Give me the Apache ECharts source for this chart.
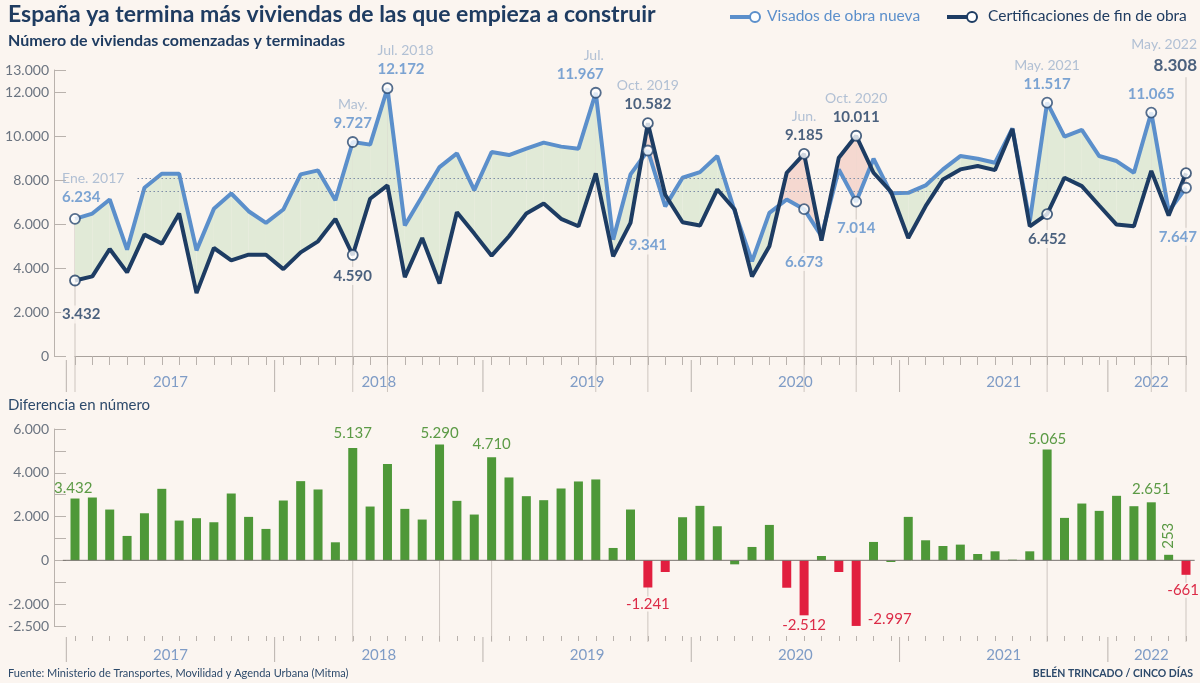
<!DOCTYPE html>
<html><head><meta charset="utf-8">
<script src="https://cdn.jsdelivr.net/npm/echarts@6/dist/echarts.min.js"></script>
<style>html,body{margin:0;padding:0;background:#fbf5f0;}#c{width:1200px;height:683px;}</style>
</head><body><div id="c"></div>
<script>
// ---------------- DATA ----------------
const monthNames = ['Ene','Feb','Mar','Abr','May','Jun','Jul','Ago','Sep','Oct','Nov','Dic'];
const years = [2017, 2018, 2019, 2020, 2021, 2022];
const lastMonthCount = 65; // Ene. 2017 .. May. 2022
const months = [];
years.forEach(y => monthNames.forEach(m => { if (months.length < lastMonthCount) months.push(m + '. ' + y); }));

// Visados de obra nueva (viviendas comenzadas)
const visados = [6234, 6475, 7114, 4834, 7647, 8285, 8285, 4802, 6688, 7387, 6581, 6050, 6658, 8254, 8436, 7083,
  9727, 9608, 12172, 5928, 7266, 8588, 9211, 7539, 9272, 9135, 9424, 9700, 9517, 9424, 11967, 5290,
  8254, 9341, 6800, 8103, 8359, 9089, 6581, 4302, 6505, 7114, 6673, 5450, 8482, 7014, 8968, 7400,
  7418, 7752, 8482, 9089, 8968, 8786, 10350, 6125, 11517, 9971, 10276, 9089, 8862, 8330, 11065, 6581, 7647];
// Certificaciones de fin de obra (viviendas terminadas)
const certificaciones = [3432, 3617, 4864, 3800, 5518, 5107, 6475, 2858, 4909, 4347, 4606, 4606, 3950, 4711, 5212, 6234,
  4590, 7146, 7752, 3587, 5366, 3298, 6536, 5563, 4560, 5442, 6475, 6931, 6234, 5897, 8299, 4529,
  6050, 10582, 7330, 6080, 5928, 7570, 6658, 3617, 4986, 8330, 9185, 5250, 9015, 10011, 8330, 7476,
  5366, 6810, 8026, 8482, 8634, 8451, 10320, 5897, 6452, 8103, 7722, 6840, 5974, 5897, 8414, 6384, 8308];
// Diferencia en número (barras)
const diferencia = [2824, 2870, 2320, 1115, 2150, 3267, 1817, 1924, 1740, 3053, 1985, 1435, 2733, 3618, 3237, 824,
  5137, 2458, 4397, 2351, 1863, 5290, 2718, 2092, 4710, 3786, 2931, 2748, 3282, 3603, 3695, 565,
  2321, -1241, -534, 1969, 2489, 1557, -183, 611, 1618, -1252, -2512, 198, -534, -2997, 840, -76,
  1985, 916, 656, 718, 290, 412, 30, 412, 5065, 1939, 2595, 2260, 2947, 2473, 2651, 253, -661];
// Reference (dotted) lines
const refLines = [8100, 7470];
// Tick labels
const topTickStep = 2000, topMax = 13000;
const bottomTickLabels = {'6000': '6.000', '4000': '4.000', '2000': '2.000', '0': '0', '-2000': '-2.000', '-3000': '-2.500'};
// Annotations
const annDates = {0: 'Ene. 2017', 16: 'May.', 18: 'Jul. 2018', 30: 'Jul.', 33: 'Oct. 2019', 42: 'Jun.', 45: 'Oct. 2020', 56: 'May. 2021', 64: 'May. 2022'};
const dateOn = {0: 'vis', 16: 'vis', 18: 'vis', 30: 'vis', 33: 'cert', 42: 'cert', 45: 'cert', 56: 'vis', 64: 'cert'};
const annVisados = [0, 16, 18, 30, 33, 42, 45, 56, 62, 64];
const annCert = [0, 16, 33, 42, 45, 56, 64];
const barLabels = {0: '3.432', 16: '5.137', 21: '5.290', 24: '4.710', 33: '-1.241', 42: '-2.512', 45: '-2.997', 56: '5.065', 62: '2.651', 63: '253', 64: '-661'};
const leaderTop = [0, 16, 18, 30, 33, 42, 45, 56, 62, 64];
const leaderBottom = [16, 21, 24, 33, 56, 64];

// ---------------- LAYOUT / STYLE ----------------
const BG = '#fbf5f0';
const FONT = 'Lato, "Noto Sans", sans-serif';
const C_VIS = '#5b8fcb', C_CERT = '#1d3c63', C_NAVY = '#1f3c61';
const C_DATE = '#9fb3cd', C_AXIS = '#b9b2ad', C_AXLAB = '#6b7480', C_YEAR = '#7f9cc6';
const C_GREEN = '#4e9838', C_RED = '#e11f3f', C_GLAB = '#5b9a45', C_RLAB = '#dc2b47';
const FILL_G = '#e1ead7', FILL_P = '#f5d8d0';

const labelLayout = {
  vis: {0: {pos: 'top', align: 'left', dx: -14, dist: 7}, 16: {pos: 'top', dist: 4}, 18: {pos: 'top', align: 'left', dx: -11, dist: 4},
        30: {pos: 'top', align: 'right', dx: 9, dist: 4}, 33: {pos: 'bottom', dist: 80, bg: true}, 42: {pos: 'bottom', dist: 38, bg: true},
        45: {pos: 'bottom', dist: 12, bg: true}, 56: {pos: 'top', dist: 4}, 62: {pos: 'top', dist: 4}, 64: {pos: 'bottom', dist: 34, align: 'right', dx: 12, bg: true}},
  cert: {0: {pos: 'bottom', align: 'left', dx: -14, dist: 19, bg: true}, 16: {pos: 'bottom', dist: 6, bg: true}, 33: {pos: 'top', dist: 4},
         42: {pos: 'top', dist: 4}, 45: {pos: 'top', dist: 4}, 56: {pos: 'bottom', dist: 10, bg: true}, 64: {pos: 'top', align: 'right', dx: 12, dist: 91}}
};
const leaderExtra = {64: 96};
const barLabelLayout = {
  0: {position: 'top', align: 'left', offset: [-21, 0], distance: 3},
  16: {position: 'top', distance: 7}, 21: {position: 'top', distance: 4}, 24: {position: 'top', distance: 6},
  33: {position: 'bottom', distance: 9}, 42: {position: 'bottom', distance: 2},
  45: {position: 'right', distance: 7, offset: [0, 26]}, 56: {position: 'top', distance: 3},
  62: {position: 'top', distance: 6}, 63: {position: 'top', rotate: 90, align: 'left', verticalAlign: 'middle', distance: 6},
  64: {position: 'bottom', distance: 8, align: 'right', offset: [13, 0]}
};

const fmt = n => (n < 0 ? '-' : '') + String(Math.abs(Math.round(n))).replace(/\B(?=(\d{3})+(?!\d))/g, '.');

const rich = {
  d: {fontSize: 14, color: C_DATE, lineHeight: 19, fontFamily: FONT},
  vis: {fontSize: 15, fontWeight: 'bold', color: C_VIS, lineHeight: 18, fontFamily: FONT},
  cert: {fontSize: 15, fontWeight: 'bold', color: C_NAVY, lineHeight: 18, fontFamily: FONT},
  big: {fontSize: 17, fontWeight: 'bold', color: C_NAVY, lineHeight: 22, fontFamily: FONT}
};

function markerItem(m, key) {
  const vals = key === 'vis' ? visados : certificaciones;
  const L = labelLayout[key][m];
  const vKey = (m === 64 && key === 'cert') ? 'big' : key;
  const text = (dateOn[m] === key ? '{d|' + annDates[m] + '}\n' : '') + '{' + vKey + '|' + fmt(vals[m]) + '}';
  return {
    value: [m, vals[m]],
    label: {show: true, position: L.pos, distance: L.dist, align: L.align || 'center', offset: [L.dx || 0, 0],
      formatter: text, rich: rich, backgroundColor: L.bg ? BG : 'transparent', padding: [0, 1]}
  };
}

function yearSeries(xIdx, yIdx, yMin, sepA, sepB, labY) {
  return {
    type: 'custom', xAxisIndex: xIdx, yAxisIndex: yIdx, clip: false, silent: true, z: 1,
    data: years.map((y, k) => [k * 12, Math.min(k * 12 + 11, lastMonthCount - 1)]),
    encode: {x: [0, 1]},
    renderItem: (params, api) => {
      const s = api.value(0), e = api.value(1);
      const b = api.coord([s - 0.5, yMin]);
      const c = api.coord([(s + e) / 2, yMin]);
      return {type: 'group', children: [
        {type: 'line', shape: {x1: b[0], y1: b[1] + sepA, x2: b[0], y2: b[1] + sepB}, style: {stroke: C_AXIS, lineWidth: 1}},
        {type: 'text', style: {text: String(years[params.dataIndex]), x: c[0], y: b[1] + labY, fill: C_YEAR,
          fontSize: 15, fontFamily: FONT, align: 'center', verticalAlign: 'middle', textAlign: 'center', textVerticalAlign: 'middle'}}
      ]};
    }
  };
}

function leaderSeries(xIdx, yIdx, list, topFn, yMin, below) {
  return {
    type: 'custom', xAxisIndex: xIdx, yAxisIndex: yIdx, clip: false, silent: true, z: 0,
    data: list.map(m => [m, topFn(m)]),
    renderItem: (params, api) => {
      const m = api.value(0);
      const p = api.coord([m, api.value(1)]);
      const b = api.coord([m, yMin]);
      const extra = (xIdx === 0 && leaderExtra[m]) ? leaderExtra[m] : 0;
      return {type: 'line', shape: {x1: p[0], y1: p[1] - extra, x2: p[0], y2: b[1] + below}, style: {stroke: '#cdc5bf', lineWidth: 1}};
    }
  };
}

const chart = echarts.init(document.getElementById('c'), null, {renderer: 'canvas'});

const option = {
  backgroundColor: BG,
  animation: false,
  textStyle: {fontFamily: FONT},
  grid: [
    {left: 75, right: 14, top: 70, height: 286, outerBoundsMode: 'none'},
    {left: 75, right: 14, top: 429, height: 197, outerBoundsMode: 'none'}
  ],
  xAxis: [
    {gridIndex: 0, type: 'value', min: 0, max: lastMonthCount - 1, interval: 1,
      axisLine: {show: true, onZero: false, lineStyle: {color: '#a9a29d'}},
      axisTick: {show: true, length: 9, lineStyle: {color: C_AXIS}}, axisLabel: {show: false}, splitLine: {show: false}},
    {gridIndex: 1, type: 'value', min: 0, max: lastMonthCount - 1, interval: 1, position: 'bottom', offset: 10,
      axisLine: {show: false, onZero: false}, axisTick: {show: true, length: 5, lineStyle: {color: C_AXIS}},
      axisLabel: {show: false}, splitLine: {show: false}}
  ],
  yAxis: [
    {gridIndex: 0, type: 'value', min: 0, max: topMax, interval: topTickStep, offset: 21,
      axisLine: {show: true, onZero: false, lineStyle: {color: C_AXIS}},
      axisTick: {show: true, inside: true, length: 12, lineStyle: {color: C_AXIS}},
      axisLabel: {margin: 5, color: C_AXLAB, fontSize: 14, fontFamily: FONT, formatter: v => fmt(v)}, splitLine: {show: false}},
    {gridIndex: 1, type: 'value', min: -3000, max: 6000, interval: 1000, offset: 21,
      axisLine: {show: true, onZero: false, lineStyle: {color: C_AXIS}},
      axisTick: {show: true, inside: true, length: 12, lineStyle: {color: C_AXIS}},
      axisLabel: {margin: 5, color: C_AXLAB, fontSize: 14, fontFamily: FONT,
        formatter: v => (bottomTickLabels[String(v)] !== undefined ? bottomTickLabels[String(v)] : '')}, splitLine: {show: false}}
  ],
  graphic: [
    {type: 'text', left: 8, top: 3, style: {text: 'España ya termina más viviendas de las que empieza a construir', fill: C_NAVY, font: 'bold 23px ' + FONT}},
    {type: 'text', left: 8, top: 33, style: {text: 'Número de viviendas comenzadas y terminadas', fill: C_NAVY, font: 'bold 16px ' + FONT}},
    {type: 'text', left: 8, top: 398, style: {text: 'Diferencia en número', fill: '#2d4a6b', font: '15px ' + FONT}},
    {type: 'text', left: 8, top: 668, style: {text: 'Fuente: Ministerio de Transportes, Movilidad y Agenda Urbana (Mitma)', fill: '#2d4a6b', font: '11px ' + FONT}},
    {type: 'text', right: 7, top: 668, style: {text: 'BELÉN TRINCADO / CINCO DÍAS', fill: '#2d4a6b', font: 'bold 10.5px ' + FONT}},
    // legend
    {type: 'line', shape: {x1: 730, y1: 17, x2: 750, y2: 17}, style: {stroke: C_VIS, lineWidth: 4}},
    {type: 'circle', shape: {cx: 755, cy: 17, r: 5}, style: {fill: '#fff', stroke: C_VIS, lineWidth: 2}},
    {type: 'text', left: 767, top: 8, style: {text: 'Visados de obra nueva', fill: C_VIS, font: '15.5px ' + FONT}},
    {type: 'line', shape: {x1: 947, y1: 17, x2: 967, y2: 17}, style: {stroke: C_CERT, lineWidth: 4}},
    {type: 'circle', shape: {cx: 972, cy: 17, r: 5}, style: {fill: '#fff', stroke: C_CERT, lineWidth: 2}},
    {type: 'text', left: 988, top: 8, style: {text: 'Certificaciones de fin de obra', fill: C_NAVY, font: '15.5px ' + FONT}}
  ],
  series: [
    leaderSeries(0, 0, leaderTop, m => Math.max(visados[m], certificaciones[m]), 0, 36),
    {
      type: 'custom', xAxisIndex: 0, yAxisIndex: 0, silent: true, z: 2,
      data: visados.slice(0, -1).map((v, i) => [i, v, certificaciones[i], visados[i + 1], certificaciones[i + 1]]),
      encode: {x: 0, y: [1, 2, 3, 4]},
      renderItem: (params, api) => {
        const i = api.value(0), v0 = api.value(1), c0 = api.value(2), v1 = api.value(3), c1 = api.value(4);
        const P = (x, y) => api.coord([x, y]);
        const d0 = v0 - c0, d1 = v1 - c1;
        const col = d => d >= 0 ? FILL_G : FILL_P;
        const polys = [];
        if (d0 * d1 >= 0) {
          polys.push({pts: [P(i, v0), P(i + 1, v1), P(i + 1, c1), P(i, c0)], c: col(d0 + d1)});
        } else {
          const t = d0 / (d0 - d1), xm = i + t, ym = v0 + t * (v1 - v0);
          polys.push({pts: [P(i, v0), P(xm, ym), P(i, c0)], c: col(d0)});
          polys.push({pts: [P(xm, ym), P(i + 1, v1), P(i + 1, c1)], c: col(d1)});
        }
        return {type: 'group', children: polys.map(p => ({type: 'polygon', shape: {points: p.pts}, style: {fill: p.c}}))};
      }
    },
    {
      name: 'Visados de obra nueva', type: 'line', xAxisIndex: 0, yAxisIndex: 0, z: 4, symbol: 'none',
      data: visados.map((v, i) => [i, v]), lineStyle: {color: C_VIS, width: 4}, itemStyle: {color: C_VIS},
      markLine: {silent: true, symbol: 'none', label: {show: false}, lineStyle: {type: [1.5, 2.5], color: '#7c8ca6', width: 1},
        data: refLines.map(v => [{coord: [3.6, v]}, {coord: [lastMonthCount - 1, v]}])}
    },
    {
      name: 'Certificaciones de fin de obra', type: 'line', xAxisIndex: 0, yAxisIndex: 0, z: 5, symbol: 'none',
      data: certificaciones.map((v, i) => [i, v]), lineStyle: {color: C_CERT, width: 4}, itemStyle: {color: C_CERT}
    },
    {
      type: 'scatter', xAxisIndex: 0, yAxisIndex: 0, z: 7, symbol: 'circle', symbolSize: 10,
      itemStyle: {color: '#fff', borderColor: '#2a4a72', borderWidth: 1.8},
      data: annVisados.map(m => markerItem(m, 'vis'))
    },
    {
      type: 'scatter', xAxisIndex: 0, yAxisIndex: 0, z: 7, symbol: 'circle', symbolSize: 10,
      itemStyle: {color: '#fff', borderColor: C_CERT, borderWidth: 1.8},
      data: annCert.map(m => markerItem(m, 'cert'))
    },
    yearSeries(0, 0, 0, 4, 36, 26),
    // bottom chart
    leaderSeries(1, 1, leaderBottom, m => 0, -3000, 16),
    {
      type: 'custom', xAxisIndex: 1, yAxisIndex: 1, clip: false, silent: true, z: 3,
      data: [[-0.7, lastMonthCount - 0.5]],
      renderItem: (params, api) => {
        const a = api.coord([api.value(0), 0]), b = api.coord([api.value(1), 0]);
        return {type: 'line', shape: {x1: a[0], y1: a[1], x2: b[0], y2: b[1]}, style: {stroke: '#77726e', lineWidth: 1}};
      }
    },
    {
      type: 'bar', xAxisIndex: 1, yAxisIndex: 1, barWidth: 9, clip: false, z: 2,
      itemStyle: {color: p => p.value[1] < -300 ? C_RED : C_GREEN},
      data: diferencia.map((v, i) => {
        const item = {value: [i, v]};
        if (barLabels[i] !== undefined) {
          const L = barLabelLayout[i];
          item.label = Object.assign({show: true, formatter: barLabels[i], fontSize: 15, fontFamily: FONT,
            color: v < 0 ? C_RLAB : C_GLAB, backgroundColor: v < 0 ? BG : 'transparent'}, L);
        }
        return item;
      })
    },
    yearSeries(1, 1, -3000, 11, 36, 29)
  ]
};
chart.setOption(option);
</script>
</body></html>
